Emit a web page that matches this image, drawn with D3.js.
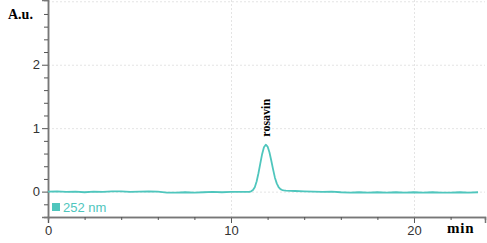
<!DOCTYPE html>
<html>
<head>
<meta charset="utf-8">
<script src="https://cdn.jsdelivr.net/npm/d3@7"></script>
<style>
  body { margin: 0; background: #fff; }
  svg { display: block; }
</style>
</head>
<body>
<svg id="chart" width="487" height="243"></svg>
<script>
// retention time (min) and absorbance (A.u.)
var times = [0, 0.5, 1, 1.5, 2, 2.5, 3, 3.5, 4, 4.5, 5, 5.5, 6, 6.5, 7, 7.5, 8, 8.5, 9, 9.5, 10, 10.5, 11,
  11.1, 11.2, 11.3, 11.4, 11.5, 11.6, 11.7, 11.8, 11.9, 12.0, 12.1, 12.2, 12.3, 12.4, 12.5, 12.6, 12.7, 12.8, 12.9, 13.0,
  13.5, 14, 14.5, 15, 15.5, 16, 16.5, 17, 17.5, 18, 18.5, 19, 19.5, 20, 20.5, 21, 21.5, 22, 22.5, 23, 23.5];
var absorb = [0.0, 0.005, -0.005, 0.0, -0.01, 0.0, -0.005, 0.005, 0.005, -0.005, 0.0, 0.005, 0.0, -0.015, -0.015, -0.01, -0.015, -0.01, -0.005, -0.01, -0.005, -0.005, -0.005,
  0.005, 0.025, 0.07, 0.16, 0.29, 0.44, 0.59, 0.70, 0.74, 0.71, 0.62, 0.49, 0.35, 0.22, 0.13, 0.07, 0.04, 0.025, 0.018, 0.015,
  0.01, 0.005, 0.0, -0.005, 0.0, -0.01, -0.015, -0.01, -0.015, -0.01, -0.015, -0.01, -0.015, -0.01, -0.015, -0.01, -0.015, -0.015, -0.01, -0.015, -0.01];

var peakNames = ["rosavin"];
var peakTimes = [11.9];
var peakHeights = [0.74];

var yMajor = [0, 1, 2];
var seriesName = "252 nm";
var lineColor = "#4fc6bd";

var svg = d3.select("#chart");

var x = d3.scaleLinear().domain([0, 23.88]).range([48, 485]);
var y = d3.scaleLinear().domain([-0.4, 3.02]).range([217, 0]);

// dotted grid
svg.append("g").selectAll("line.hg")
  .data([0, 1, 2, 3])
  .enter().append("line")
  .attr("x1", x(0)).attr("x2", x(23.88))
  .attr("y1", d => y(d) + 0.5).attr("y2", d => y(d) + 0.5)
  .attr("stroke", "#e4e4e4").attr("stroke-dasharray", "2,2");
svg.append("g").selectAll("line.vg")
  .data([10, 20])
  .enter().append("line")
  .attr("x1", d => x(d) + 0.5).attr("x2", d => x(d) + 0.5)
  .attr("y1", 0).attr("y2", y(-0.4))
  .attr("stroke", "#e4e4e4").attr("stroke-dasharray", "2,2");

// x axis
var xMinor = d3.axisBottom(x).tickValues(d3.range(0, 24, 2).filter(d => d % 10 != 0)).tickSize(3).tickFormat("");
var xMajor = d3.axisBottom(x).tickValues([0, 10, 20]).tickSize(6).tickPadding(3);
var gx = svg.append("g").attr("transform", "translate(0," + y(-0.4) + ")");
gx.call(xMajor);
gx.append("g").call(xMinor);

// y axis
var yMinorAx = d3.axisLeft(y).tickValues(d3.range(-0.2, 3.01, 0.2).filter(d => Math.abs(d - Math.round(d)) > 0.01)).tickSize(4).tickFormat("");
var yMajorAx = d3.axisLeft(y).tickValues(yMajor).tickSize(6).tickPadding(2).tickFormat(d3.format("d"));
var gy = svg.append("g").attr("transform", "translate(" + x(0) + ",0)");
gy.call(yMajorAx);
gy.append("g").call(yMinorAx);

svg.selectAll(".domain").attr("stroke", "#777").attr("stroke-width", 1.5);
svg.selectAll(".tick line").attr("stroke", "#555");
svg.selectAll(".tick text").attr("font-family", "Liberation Sans, Arial, sans-serif")
  .attr("font-size", 13).attr("fill", "#333");

// trace
var pts = times.map((t, i) => [t, absorb[i]]);
var line = d3.line().x(d => x(d[0])).y(d => y(d[1]));
svg.append("path")
  .datum(pts)
  .attr("d", line)
  .attr("fill", "none")
  .attr("stroke", lineColor)
  .attr("stroke-width", 1.8)
  .attr("stroke-linejoin", "round");

// peak label
svg.selectAll(".peak")
  .data(peakNames)
  .enter().append("text")
  .attr("class", "peak")
  .attr("transform", (d, i) => "translate(" + (x(peakTimes[i]) + 4) + "," + (y(peakHeights[i]) - 8) + ") rotate(-90)")
  .attr("font-family", "Liberation Serif, Times New Roman, serif")
  .attr("font-weight", "bold")
  .attr("font-size", 12)
  .text(d => d);

// legend
svg.append("rect").attr("x", 52).attr("y", 203).attr("width", 8).attr("height", 8).attr("fill", lineColor);
svg.append("text").attr("x", 63).attr("y", 212)
  .attr("font-family", "Liberation Sans, Arial, sans-serif").attr("font-size", 13)
  .attr("fill", lineColor).text(seriesName);

// axis titles
svg.append("text").attr("x", 8).attr("y", 19)
  .attr("font-family", "Liberation Serif, Times New Roman, serif").attr("font-weight", "bold")
  .attr("font-size", 14).text("A.u.");
svg.append("text").attr("x", 447).attr("y", 233)
  .attr("font-family", "Liberation Serif, Times New Roman, serif").attr("font-weight", "bold")
  .attr("font-size", 15).attr("letter-spacing", 0.8).text("min");
</script>
</body>
</html>
